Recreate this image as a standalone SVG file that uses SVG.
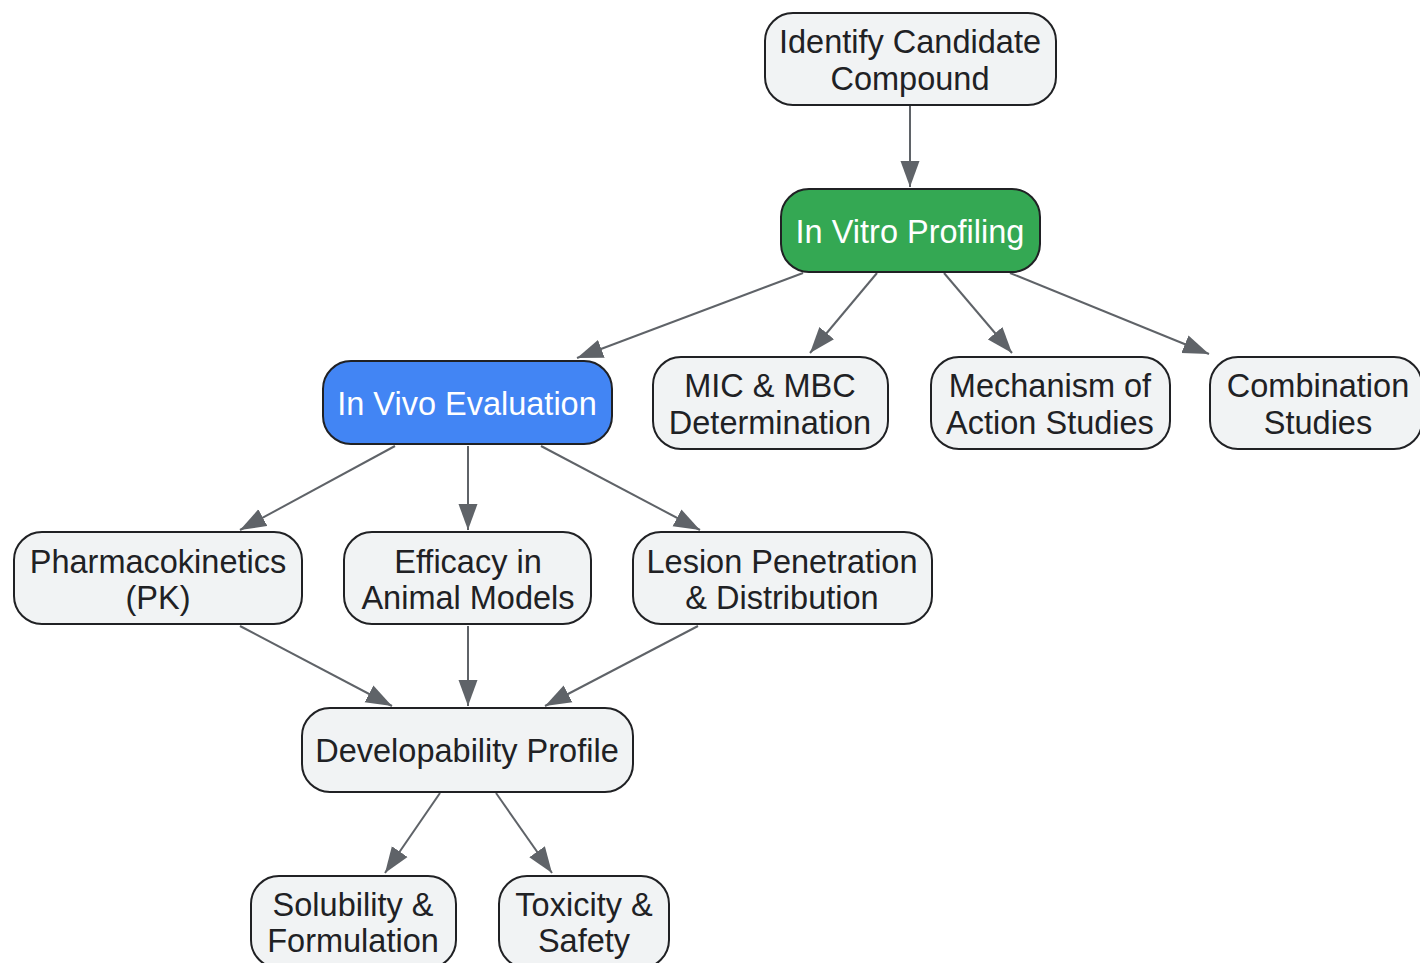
<svg xmlns="http://www.w3.org/2000/svg" width="1420" height="963" viewBox="0 0 1420 963">
<style>
.n rect{fill:#f1f3f4;stroke:#202124;stroke-width:2}
.n text{font-family:"Liberation Sans",Arial,sans-serif;font-size:32.5px;fill:#202124;text-anchor:middle}
.g rect{fill:#34a853}
.b rect{fill:#4285f4}
.g text,.b text{fill:#ffffff}
.e path{fill:none;stroke:#5f6368;stroke-width:2;marker-end:url(#ah)}
</style>
<defs>
<marker id="ah" markerUnits="userSpaceOnUse" markerWidth="27" markerHeight="20" refX="26" refY="10" orient="auto">
<path d="M0,0.5 L26,10 L0,19.5 z" fill="#5f6368"/>
</marker>
</defs>
<rect width="1420" height="963" fill="#ffffff"/>
<g id="edges" class="e">
<path d="M910,105 L910,187"/>
<path d="M803,273 L577,358"/>
<path d="M877,273 L810,353"/>
<path d="M944,273 L1012,353"/>
<path d="M1010,273 L1209,354"/>
<path d="M395,446 L240,530"/>
<path d="M468,446 L468,530"/>
<path d="M541,446 L700,530"/>
<path d="M240,626 L392,706"/>
<path d="M468,626 L468,706"/>
<path d="M698,626 L545,706"/>
<path d="M440,793 L385,873"/>
<path d="M496,793 L552,873"/>
</g>
<g id="identify" class="n"><rect x="765" y="13" width="291" height="92" rx="28"/><text x="910" y="53">Identify Candidate</text><text x="910" y="90">Compound</text></g>
<g id="invitro" class="n g"><rect x="781" y="189" width="259" height="83" rx="28"/><text x="910" y="243">In Vitro Profiling</text></g>
<g id="invivo" class="n b"><rect x="323" y="361" width="289" height="83" rx="28"/><text x="467" y="415">In Vivo Evaluation</text></g>
<g id="mic" class="n"><rect x="653" y="357" width="235" height="92" rx="28"/><text x="770" y="397">MIC &amp; MBC</text><text x="770" y="434">Determination</text></g>
<g id="moa" class="n"><rect x="931" y="357" width="239" height="92" rx="28"/><text x="1050" y="397">Mechanism of</text><text x="1050" y="434">Action Studies</text></g>
<g id="combo" class="n"><rect x="1210" y="357" width="212" height="92" rx="28"/><text x="1318" y="397">Combination</text><text x="1318" y="434">Studies</text></g>
<g id="pk" class="n"><rect x="14" y="532" width="288" height="92" rx="28"/><text x="158" y="573">Pharmacokinetics</text><text x="158" y="609">(PK)</text></g>
<g id="efficacy" class="n"><rect x="344" y="532" width="247" height="92" rx="28"/><text x="468" y="573">Efficacy in</text><text x="468" y="609">Animal Models</text></g>
<g id="lesion" class="n"><rect x="633" y="532" width="299" height="92" rx="28"/><text x="782" y="573">Lesion Penetration</text><text x="782" y="609">&amp; Distribution</text></g>
<g id="dev" class="n"><rect x="302" y="708" width="331" height="84" rx="28"/><text x="467" y="762">Developability Profile</text></g>
<g id="solubility" class="n"><rect x="251" y="876" width="205" height="92" rx="28"/><text x="353" y="916">Solubility &amp;</text><text x="353" y="952">Formulation</text></g>
<g id="toxicity" class="n"><rect x="499" y="876" width="170" height="92" rx="28"/><text x="584" y="916">Toxicity &amp;</text><text x="584" y="952">Safety</text></g>
</svg>
